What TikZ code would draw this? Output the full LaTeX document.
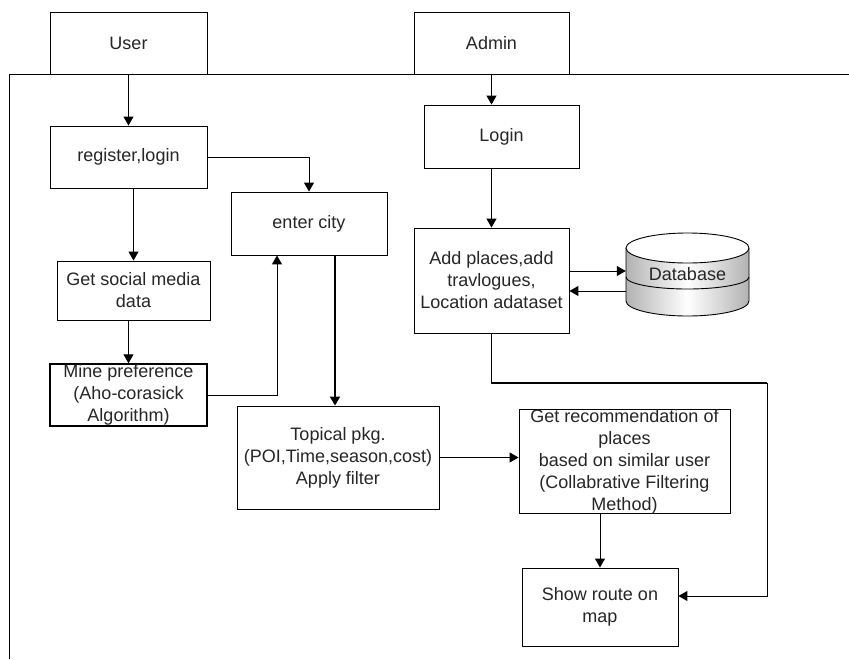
\documentclass[tikz,border=0pt]{standalone}
\usepackage{fontspec}
\setmainfont{Liberation Sans}
\usetikzlibrary{arrows.meta}

\begin{document}
\begin{tikzpicture}[x=1pt,y=-1pt]

        \useasboundingbox (0,0) rectangle (849,659);

        % frame under the two actors
        \draw[line width=.9pt] (9,659) -- (9,74) -- (849,74);

        \begin{scope}[every node/.style={rectangle,draw,line width=.9pt,fill=white,align=center,inner sep=0pt,
            font=\fontsize{18}{22}\selectfont,text=black!85}]
          \node[minimum width=157,minimum height=62] (user)   at (128.5,43)  {User};
          \node[minimum width=155,minimum height=62] (admin)  at (491.5,43)  {Admin};
          \node[minimum width=157,minimum height=62] (reg)    at (128.5,157) {register,login};
          \node[minimum width=156,minimum height=63] (city)   at (309,223.5) {enter city};
          \node[minimum width=153,minimum height=59] (social) at (133.5,290.5) {Get social media\\data};
          \node[minimum width=157,minimum height=62,line width=1.4pt] (mine) at (128.5,395) {Mine preference\\(Aho-corasick\\Algorithm)};
          \node[minimum width=202,minimum height=103] (topic) at (338,457.5) {Topical pkg.\\(POI,Time,season,cost)\\Apply filter};
          \node[minimum width=211,minimum height=103] (rec)   at (624.5,461.5) {Get recommendation of\\places\\based on similar user\\(Collabrative Filtering\\Method)};
          \node[minimum width=156,minimum height=78] (show)  at (600,607)   {Show route on\\map};
          \node[minimum width=155,minimum height=63] (login) at (501.5,136.5) {Login};
          \node[minimum width=155,minimum height=105] (add)  at (491.5,280.5) {Add places,add\\travlogues,\\Location adataset};
        \end{scope}

        % database drum
        \shade[left color=black!30,right color=black!30,middle color=white]
          (626,248) -- (626,301) arc (180:0:61.5 and 15) -- (749,248) arc (0:180:61.5 and 15) -- cycle;
        \draw[line width=.9pt] (626,248) -- (626,301) arc (180:0:61.5 and 15) -- (749,248);
        \draw[line width=.9pt,fill=white] (687.5,248) ellipse (61.5 and 15);
        \draw[line width=.9pt] (626,277) arc (180:0:61.5 and 12);
        \node[inner sep=0pt,minimum width=123,minimum height=83,font=\fontsize{18}{22}\selectfont,text=black!85]
          (db) at (687.5,274.5) {\raisebox{2pt}{Database}};
        \coordinate (turn) at (767,383);

        \begin{scope}[-{Triangle[length=9pt,width=10pt]},line width=1pt]
          \draw (user) -- (reg);
          \draw (reg.east) -| (city.north);
          \draw (social.north |- reg.south) -- (social.north);
          \draw (mine.north |- social.south) -- (mine.north);
          \draw (mine.east) -| ([xshift=-32pt]city.south);
          \draw[line width=1.8pt] ([xshift=26pt]city.south) -- ([xshift=26pt]city.south |- topic.north);
          \draw (topic.east) -- (topic.east -| rec.west);
          \draw (show.north |- rec.south) -- (show.north);
          \draw (admin.south) -- (admin.south |- login.north);
          \draw (login.south -| admin.south) -- (admin.south |- add.north);
          \draw ([yshift=9.5pt]add.east) -- ([yshift=9.5pt]add.east -| db.west);
          \draw ([yshift=-10.5pt]add.east -| db.west) -- ([yshift=-10.5pt]add.east);
          \draw (add.south) |- (turn) |- ([yshift=11pt]show.east);
        \end{scope}

        \draw[line width=2pt] (turn -| add.south) -- (turn);

      \end{tikzpicture}
\end{document}
